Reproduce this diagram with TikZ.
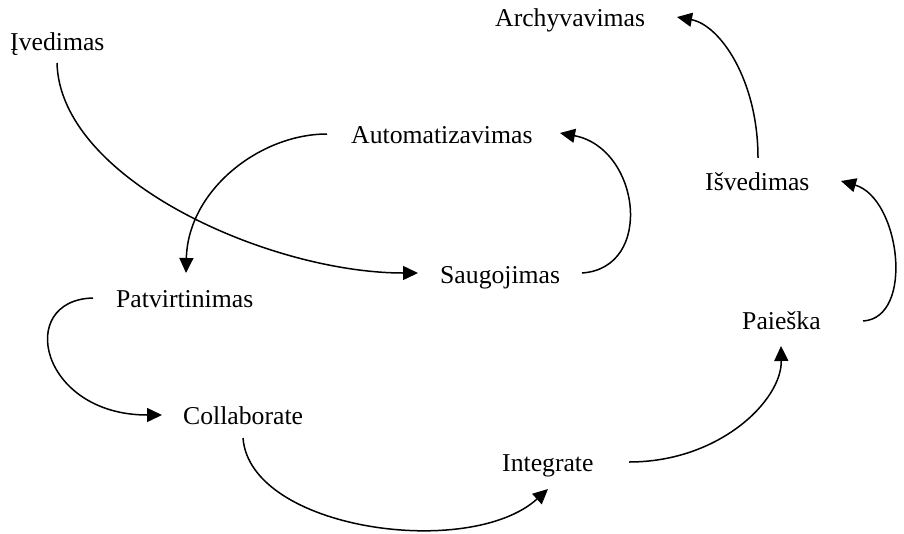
\documentclass[tikz,border=0pt]{standalone}
\usepackage{fontspec}
\setmainfont{Liberation Serif}
\usetikzlibrary{arrows.meta,calc}
\begin{document}
\begin{tikzpicture}[x=1pt,y=-1pt,
  lbl/.style={anchor=base west,inner sep=0pt,font=\fontsize{25.7}{30}\selectfont},
  conn/.style={line width=1.5pt,-{Triangle[length=15pt,width=14pt]}}]
\useasboundingbox (0,0) rectangle (904,533);
\node[lbl] (Iv) at (10,50) {Įvedimas};
\node[lbl] (Ar) at (495,26) {Archyvavimas};
\node[lbl] (Au) at (351,143) {Automatizavimas};
\node[lbl] (Is) at (705,190) {Išvedimas};
\node[lbl] (Sa) at (440,283) {Saugojimas};
\node[lbl] (Pa) at (116,307) {Patvirtinimas};
\node[lbl] (Pk) at (742,329) {Paieška};
\node[lbl] (Co) at (183,424) {Collaborate};
\node[lbl] (In) at (502,471) {Integrate};
% Ivedimas -> Saugojimas
\draw[conn] ($(Iv.base west)+(47,13)$) .. controls (60,180) and (270,273) .. ($(Sa.base west)+(-22,-10)$);
% Saugojimas -> Automatizavimas
\draw[conn] ($(Sa.base west)+(142,-10)$) .. controls (655,268) and (640,148) .. ($(Au.base west)+(209,-10)$);
% Automatizavimas -> Patvirtinimas
\draw[conn] ($(Au.base west)+(-24,-9)$) .. controls (260,134) and (188,190) .. ($(Pa.base west)+(70,-34)$);
% Patvirtinimas -> Collaborate
\draw[conn] ($(Pa.base west)+(-23,-9)$) .. controls (15,300) and (40,415) .. ($(Co.base west)+(-21,-9)$);
% Collaborate -> Integrate
\draw[conn] ($(Co.base west)+(60,14)$) .. controls (250,530) and (470,560) .. ($(In.base west)+(46,18)$);
% Integrate -> Paieska
\draw[conn] ($(In.base west)+(127,-9)$) .. controls (720,462) and (782,400) .. ($(Pk.base west)+(39,17)$);
% Paieska -> Isvedimas
\draw[conn] ($(Pk.base west)+(121,-8)$) .. controls (915,318) and (900,198) .. ($(Is.base west)+(136,-9)$);
% Isvedimas -> Archyvavimas
\draw[conn] ($(Is.base west)+(53,-32)$) .. controls (758,80) and (720,25) .. ($(Ar.base west)+(182,-9)$);
\end{tikzpicture}
\end{document}
